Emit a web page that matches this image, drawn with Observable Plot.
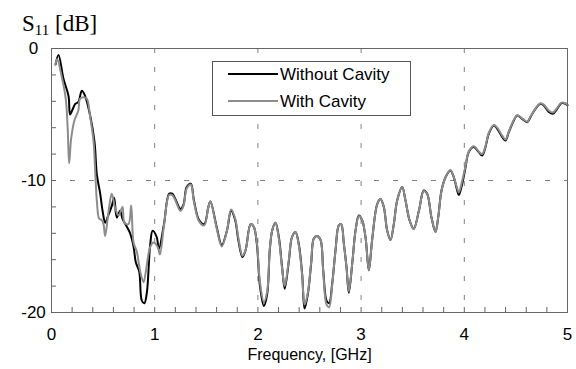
<!DOCTYPE html>
<html><head><meta charset="utf-8">
<script src="https://cdn.jsdelivr.net/npm/d3@7"></script>
<script src="https://cdn.jsdelivr.net/npm/@observablehq/plot@0.6"></script>
<style>body{margin:0;background:#fff}</style>
</head><body><div id="chart"></div>
<script>
const seriesNames = ["Without Cavity", "With Cavity"];
const seriesColors = ["#000000", "#8c8c8c"];

const freqWithout = [0.04,0.068,0.116,0.165,0.18,0.205,0.23,0.26,0.294,0.326,0.375,0.417,0.44,0.47,0.497,0.52,0.55,0.585,0.607,0.633,0.665,0.688,0.73,0.762,0.795,0.817,0.85,0.875,0.9,0.924,0.956,0.98,1.02,1.04,1.09,1.14,1.17,1.20,1.25,1.28,1.31,1.35,1.38,1.43,1.48,1.52,1.54,1.60,1.65,1.70,1.74,1.78,1.81,1.85,1.88,1.93,1.96,1.99,2.02,2.058,2.09,2.115,2.138,2.17,2.203,2.235,2.26,2.30,2.33,2.364,2.396,2.429,2.452,2.484,2.516,2.542,2.574,2.607,2.633,2.665,2.69,2.72,2.752,2.784,2.807,2.833,2.859,2.881,2.914,2.946,2.978,3.01,3.043,3.075,3.107,3.156,3.188,3.22,3.253,3.285,3.317,3.35,3.398,3.43,3.469,3.51,3.56,3.607,3.64,3.682,3.721,3.747,3.779,3.818,3.866,3.898,3.931,3.947,3.98,4.012,4.043,4.092,4.14,4.173,4.205,4.237,4.286,4.319,4.367,4.399,4.431,4.48,4.513,4.561,4.609,4.641,4.69,4.738,4.77,4.819,4.858,4.9,4.942,4.981,5.0];
const s11Without = [-1.2,-0.5,-2.3,-3.6,-5.0,-4.6,-4.2,-4.05,-3.2,-3.6,-5.1,-7.1,-9.6,-10.9,-12.4,-13.2,-12.65,-11.9,-11.3,-12.8,-12.3,-12.9,-13.5,-14.0,-15.0,-16.2,-16.9,-19.1,-19.3,-18.5,-14.9,-13.8,-14.3,-15.2,-13.3,-11.0,-11.0,-11.4,-12.15,-11.8,-10.5,-10.25,-11.5,-13.0,-13.3,-12.0,-11.6,-13.5,-14.9,-13.8,-12.3,-13.0,-14.5,-15.8,-15.3,-13.3,-13.5,-14.8,-18.0,-19.5,-18.6,-15.3,-13.8,-13.2,-14.3,-16.6,-18.2,-16.1,-14.3,-13.9,-14.8,-17.1,-19.7,-18.6,-16.3,-14.4,-14.2,-14.5,-16.8,-19.1,-19.3,-17.8,-15.3,-13.4,-13.3,-14.8,-16.6,-18.5,-16.3,-13.8,-12.65,-13.0,-14.3,-16.8,-14.5,-11.8,-11.4,-12.0,-13.8,-14.5,-13.3,-11.5,-10.5,-11.5,-13.0,-13.66,-12.3,-10.76,-11.0,-12.8,-13.9,-12.8,-10.76,-9.75,-9.24,-9.75,-10.76,-11.1,-10.25,-9.0,-7.85,-7.47,-7.85,-8.1,-7.47,-6.46,-5.83,-6.08,-6.7,-6.97,-6.34,-5.45,-5.08,-5.33,-5.58,-5.2,-4.57,-4.19,-4.32,-4.8,-4.95,-4.57,-4.14,-4.19,-4.3];

const freqWith = [0.037,0.055,0.10,0.138,0.157,0.171,0.19,0.222,0.26,0.277,0.31,0.342,0.375,0.407,0.424,0.44,0.462,0.487,0.504,0.52,0.552,0.584,0.617,0.65,0.688,0.707,0.746,0.772,0.795,0.827,0.86,0.892,0.914,0.94,0.956,0.988,1.03,1.05,1.09,1.14,1.17,1.20,1.25,1.28,1.31,1.35,1.38,1.43,1.48,1.52,1.54,1.60,1.65,1.70,1.74,1.78,1.81,1.85,1.88,1.93,1.96,1.99,2.02,2.058,2.09,2.115,2.138,2.17,2.203,2.235,2.26,2.30,2.33,2.364,2.396,2.429,2.452,2.484,2.516,2.542,2.574,2.607,2.633,2.665,2.69,2.72,2.752,2.784,2.807,2.833,2.859,2.881,2.914,2.946,2.978,3.01,3.043,3.075,3.107,3.156,3.188,3.22,3.253,3.285,3.317,3.35,3.398,3.43,3.469,3.51,3.56,3.607,3.64,3.682,3.721,3.747,3.779,3.818,3.866,3.898,3.931,3.947,3.98,4.012,4.043,4.092,4.14,4.173,4.205,4.237,4.286,4.319,4.367,4.399,4.431,4.48,4.513,4.561,4.609,4.641,4.69,4.738,4.77,4.819,4.858,4.9,4.942,4.981,5.0];
const s11With = [-1.24,-0.8,-2.17,-3.8,-6.1,-8.7,-6.85,-5.45,-4.7,-3.8,-3.7,-3.8,-5.2,-7.0,-9.4,-11.6,-12.9,-13.0,-13.3,-14.2,-12.4,-11.0,-12.1,-12.65,-12.0,-13.2,-13.3,-11.9,-14.7,-15.4,-16.9,-17.7,-16.9,-15.55,-15.05,-14.7,-15.05,-15.6,-13.4,-11.1,-11.1,-11.5,-12.3,-11.9,-10.6,-10.3,-11.6,-13.1,-13.4,-12.0,-11.6,-13.6,-15.0,-13.8,-12.2,-12.9,-14.3,-15.7,-15.3,-13.3,-13.5,-14.7,-17.7,-19.2,-18.4,-15.2,-13.8,-13.2,-14.4,-16.7,-18.0,-16.0,-14.3,-13.9,-14.9,-17.2,-19.4,-18.5,-16.2,-14.4,-14.2,-14.5,-16.9,-19.4,-19.6,-17.9,-15.3,-13.4,-13.3,-14.8,-16.6,-18.4,-16.3,-13.8,-12.7,-13.0,-14.3,-16.8,-14.5,-11.8,-11.4,-12.0,-13.8,-14.5,-13.3,-11.5,-10.5,-11.5,-13.0,-13.7,-12.3,-10.8,-11.0,-12.8,-13.9,-12.8,-10.8,-9.75,-9.2,-9.75,-10.6,-10.9,-10.0,-8.9,-7.8,-7.4,-7.8,-8.0,-7.4,-6.4,-5.8,-6.0,-6.6,-6.9,-6.3,-5.4,-5.05,-5.3,-5.55,-5.15,-4.55,-4.15,-4.25,-4.7,-4.85,-4.5,-4.1,-4.15,-4.25];

const xTicks = [0, 1, 2, 3, 4, 5];
const yTicks = [0, -10, -20];
const xMinorTicks = [0.2,0.4,0.6,0.8,1,1.2,1.4,1.6,1.8,2,2.2,2.4,2.6,2.8,3,3.2,3.4,3.6,3.8,4,4.2,4.4,4.6,4.8];
const yMinorTicks = [-18,-16,-14,-12,-10,-8,-6,-4,-2];
const xGrid = [1, 2, 3, 4];
const yGrid = [-10];
const xLabel = "Frequency, [GHz]";

const rows = (f, v, s) => f.map((x, i) => ({f: x, db: v[i], s}));
const data = [...rows(freqWithout, s11Without, seriesNames[0]), ...rows(freqWith, s11With, seriesNames[1])];

const font = "Arial, 'Liberation Sans', sans-serif";
const plot = Plot.plot({
  width: 576, height: 369,
  marginLeft: 51, marginRight: 9, marginTop: 48, marginBottom: 57,
  style: {fontFamily: font, fontSize: "17px", color: "#000", background: "#fff", overflow: "visible"},
  x: {domain: [0, 5]},
  y: {domain: [-20, 0]},
  color: {domain: seriesNames, range: seriesColors},
  marks: [
    Plot.ruleX(xGrid, {stroke: "#808080", strokeDasharray: "5,14"}),
    Plot.ruleY(yGrid, {stroke: "#808080", strokeDasharray: "5,14"}),
    Plot.axisX({ticks: xMinorTicks, tickSize: -5, tickFormat: () => "", stroke: "#666", label: null}),
    Plot.axisY({ticks: yMinorTicks, tickSize: -5, tickFormat: () => "", stroke: "#666", label: null}),
    Plot.axisX({ticks: xTicks, tickSize: 0, tickPadding: 15, tickFormat: d => String(d), label: null}),
    Plot.axisY({ticks: yTicks, tickSize: 0, tickPadding: 18, textAnchor: "middle", tickFormat: d => String(d), label: null}),
    Plot.line(data, {x: "f", y: "db", z: "s", stroke: "s", strokeWidth: 2, curve: "catmull-rom"}),
    Plot.frame({stroke: "#666"}),
    Plot.text([xLabel], {frameAnchor: "bottom", dy: 47, fontSize: 16, text: d => d})
  ]
});

const svg = d3.select(plot);
const lg = svg.append("g").attr("font-family", font).attr("font-size", 17).attr("text-anchor", "start");
lg.append("rect").attr("x", 212.5).attr("y", 61.5).attr("width", 198).attr("height", 54)
  .attr("fill", "#fff").attr("stroke", "#555");
seriesNames.forEach((name, i) => {
  const y = 74 + i * 27;
  lg.append("line").attr("x1", 228).attr("x2", 278).attr("y1", y).attr("y2", y)
    .attr("stroke", seriesColors[i]).attr("stroke-width", 2);
  lg.append("text").attr("x", 280).attr("y", y).attr("dy", "0.35em").attr("fill", "#000").text(name);
});
const t = svg.append("text").attr("x", 22).attr("y", 31).attr("text-anchor", "start")
  .attr("font-family", "'Times New Roman', 'Liberation Serif', serif").attr("font-size", 23).attr("fill", "#000");
t.append("tspan").text("S");
t.append("tspan").attr("font-size", 15).attr("dy", 4).text("11");
t.append("tspan").attr("dy", -4).text(" [dB]");

document.getElementById("chart").appendChild(plot);
</script>
</body></html>
